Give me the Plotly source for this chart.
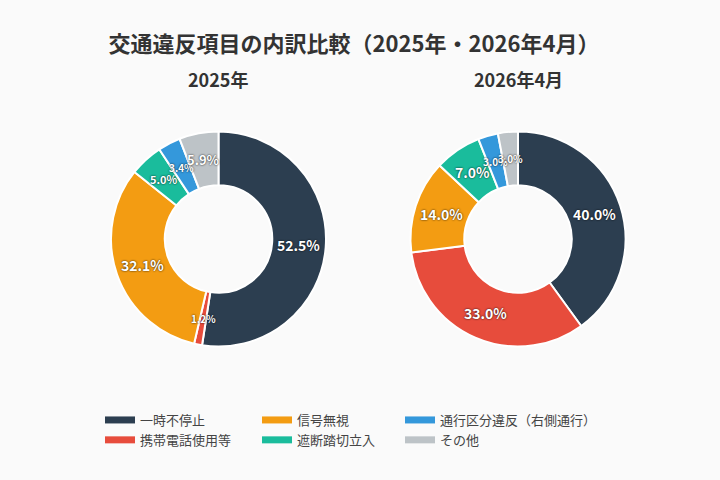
import math
import plotly.graph_objects as go

# ---- data ----
categories = ["一時不停止", "携帯電話使用等", "信号無視", "遮断踏切立入", "通行区分違反（右側通行）", "その他"]
values_2025 = [52.5, 1.2, 32.1, 5.0, 3.4, 5.9]
values_2026 = [40.0, 33.0, 14.0, 7.0, 3.0, 3.0]
subtitles = ["2025年", "2026年4月"]
title_text = "交通違反項目の内訳比較（2025年・2026年4月）"

# ---- style ----
colors = ["#2c3e50", "#e74c3c", "#f39c12", "#1abc9c", "#3498db", "#bdc3c7"]
label_sizes = [[14, 10, 14, 11, 10, 13], [14, 14, 14, 14, 10, 10]]
W, H = 720, 480
BG = "#fafafa"
FONT = "Noto Sans CJK JP"
HOLE = 0.5
centers = [(218.5, 239.0), (518.0, 239.0)]
radius = 107.5

fig = go.Figure()
annotations = []

for i, vals in enumerate([values_2025, values_2026]):
    cx, cy = centers[i]
    dom_x = [(cx - radius) / W, (cx + radius) / W]
    dom_y = [1 - (cy + radius) / H, 1 - (cy - radius) / H]
    fig.add_trace(go.Pie(
        labels=categories, values=vals, hole=HOLE, sort=False,
        direction="clockwise", rotation=0,
        marker=dict(colors=colors, line=dict(color="white", width=2)),
        textinfo="none", hoverinfo="label+percent", showlegend=False,
        domain=dict(x=dom_x, y=dom_y),
    ))
    total = sum(vals)
    cum = 0.0
    rmid = radius * (1 + HOLE) / 2
    for j, v in enumerate(vals):
        mid = (cum + v / 2) / total * 2 * math.pi
        cum += v
        px = cx + rmid * math.sin(mid)
        py = cy - rmid * math.cos(mid)
        annotations.append(dict(
            x=px / W, y=1 - py / H, xref="paper", yref="paper",
            text=f"{v:.1f}%", showarrow=False,
            xanchor="center", yanchor="middle",
            font=dict(family=FONT, size=label_sizes[i][j], color="white",
                      weight="bold", shadow="0px 0px 2px rgba(0,0,0,0.95)"),
        ))
    annotations.append(dict(
        x=cx / W, y=1 - 79 / H, xref="paper", yref="paper",
        text=subtitles[i], showarrow=False, xanchor="center", yanchor="middle",
        font=dict(family=FONT, size=18, color="#333333", weight="bold"),
    ))

# legend: three columns, two rows (row-wise order like the reference)
legend_cols = [[0, 1], [2, 3], [4, 5]]
legend_names = ["legend", "legend2", "legend3"]
legend_x = [100, 257, 400]
for c, idxs in enumerate(legend_cols):
    for k in idxs:
        fig.add_trace(go.Scatter(
            x=[None], y=[None], mode="lines", name=categories[k],
            line=dict(color=colors[k], width=7),
            legend=legend_names[c], hoverinfo="skip",
        ))

legend_common = dict(
    orientation="v", yanchor="top", xanchor="left",
    bgcolor="rgba(0,0,0,0)", borderwidth=0,
    font=dict(family=FONT, size=13, color="#444444"),
    itemclick=False, itemdoubleclick=False,
)

layout_legends = {}
for c, name in enumerate(legend_names):
    layout_legends[name] = dict(legend_common, x=legend_x[c] / W, y=1 - 405 / H)

fig.update_layout(
    width=W, height=H,
    paper_bgcolor=BG, plot_bgcolor=BG,
    margin=dict(l=0, r=0, t=0, b=0),
    title=dict(text=title_text, x=354 / W, y=1 - 44 / H, xanchor="center", yanchor="middle",
               font=dict(family=FONT, size=22, color="#333333", weight="bold")),
    annotations=annotations,
    xaxis=dict(visible=False), yaxis=dict(visible=False),
    **layout_legends,
)

fig.write_html("out.html")
